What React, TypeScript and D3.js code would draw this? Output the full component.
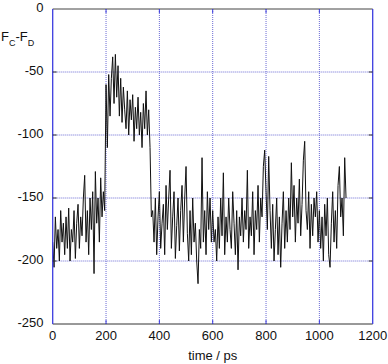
import React from "react";
import * as d3 from "d3";

const times: number[] = d3.range(0, 1101, 5);

const seg0to195 = [
  -185, -205, -165, -190, -175, -200, -160, -185, -170, -195,
  -165, -190, -158, -200, -175, -185, -160, -198, -170, -155,
  -190, -165, -180, -150, -132, -185, -160, -195, -150, -175,
  -145, -210, -129, -170, -150, -185, -134, -165, -145, -160,
];
const seg200to370 = [
  -60, -110, -52, -85, -55, -38, -75, -36, -70, -45,
  -85, -55, -90, -62, -80, -95, -65, -100, -72, -88,
  -68, -105, -78, -95, -70, -100, -82, -110, -75, -95,
  -65, -100, -80, -110, -165,
];
const seg375to595 = [
  -160, -185, -150, -195, -165, -145, -190, -170, -155, -195,
  -140, -175, -150, -128, -190, -165, -145, -198, -172, -150,
  -192, -160, -140, -185, -150, -125, -178, -200, -160, -195,
  -150, -185, -170, -200, -218, -175, -190, -118, -185, -160,
  -195, -145, -175, -150, -185,
];
const seg600to795 = [
  -160, -185, -175, -200, -165, -190, -150, -180, -130, -195,
  -165, -185, -150, -175, -190, -145, -170, -195, -160, -207,
  -165, -180, -150, -185, -160, -175, -128, -190, -165, -180,
  -145, -195, -160, -175, -140, -185, -150, -165, -125, -112,
];
const seg800to995 = [
  -145, -175, -117, -160, -190, -155, -200, -175, -150, -195,
  -165, -205, -170, -145, -190, -160, -185, -150, -175, -122,
  -165, -140, -185, -150, -170, -135, -180, -155, -120, -105,
  -160, -175, -145, -190, -155, -180, -150, -165, -145, -185,
];
const seg1000to1100 = [
  -160, -190, -165, -200, -155, -180, -150, -195, -205, -170,
  -145, -185, -160, -190, -140, -125, -165, -150, -180, -118, -150,
];

const values: number[] = [
  ...seg0to195,
  ...seg200to370,
  ...seg375to595,
  ...seg600to795,
  ...seg800to995,
  ...seg1000to1100,
];

const xTicks = [0, 200, 400, 600, 800, 1000, 1200];
const yTicks = [0, -50, -100, -150, -200, -250];

const W = 388;
const H = 364;
const left = 52.7;
const right = 372.7;
const top = 9;
const bottom = 324;

const gridColor = "#6a6ad4";
const font = "'Liberation Sans', Arial, sans-serif";

export default function App() {
  const x = d3.scaleLinear().domain([0, 1200]).range([left, right]);
  const y = d3.scaleLinear().domain([-250, 0]).range([bottom, top]);

  const pts = times.map((t, i) => [t, values[i]] as [number, number]);
  const line = d3
    .line<[number, number]>()
    .x((d) => x(d[0]))
    .y((d) => y(d[1]));

  return (
    <div style={{ position: "absolute", left: 0, top: 0 }}>
      <svg width={W} height={H} style={{ display: "block", background: "#fff" }}>
        {/* grid */}
        {xTicks.slice(1, -1).map((t) => (
          <line
            key={"gx" + t}
            x1={x(t)}
            x2={x(t)}
            y1={top}
            y2={bottom}
            stroke={gridColor}
            strokeWidth={1}
            strokeDasharray="1 1"
          />
        ))}
        {yTicks.slice(1, -1).map((t) => (
          <line
            key={"gy" + t}
            x1={left}
            x2={right}
            y1={y(t)}
            y2={y(t)}
            stroke={gridColor}
            strokeWidth={1}
            strokeDasharray="1 1"
          />
        ))}

        {/* data */}
        <path d={line(pts) || ""} fill="none" stroke="#111" strokeWidth={1} />

        {/* frame */}
        <line x1={left} x2={right} y1={top} y2={top} stroke="#444" strokeWidth={1} />
        <line x1={left} x2={right} y1={bottom} y2={bottom} stroke="#333" strokeWidth={1} />
        <line x1={left} x2={left} y1={top} y2={bottom} stroke="#3c3ce0" strokeWidth={1.3} />
        <line x1={right} x2={right} y1={top} y2={bottom} stroke="#3c3ce0" strokeWidth={1.3} />

        {/* small ticks */}
        {xTicks.slice(1, -1).map((t) => (
          <g key={"tx" + t}>
            <line x1={x(t)} x2={x(t)} y1={bottom} y2={bottom - 4} stroke="#3c3ce0" />
            <line x1={x(t)} x2={x(t)} y1={top} y2={top + 4} stroke="#3c3ce0" />
          </g>
        ))}
        {yTicks.slice(1, -1).map((t) => (
          <g key={"ty" + t}>
            <line x1={left} x2={left + 4} y1={y(t)} y2={y(t)} stroke="#333" />
            <line x1={right} x2={right - 4} y1={y(t)} y2={y(t)} stroke="#333" />
          </g>
        ))}

        {/* tick labels */}
        {xTicks.map((t) => (
          <text
            key={"lx" + t}
            x={x(t)}
            y={340}
            textAnchor="middle"
            fontFamily={font}
            fontSize={13}
            fill="#111"
          >
            {t}
          </text>
        ))}
        {yTicks.map((t) => (
          <text
            key={"ly" + t}
            x={43.5}
            y={y(t) + 3}
            textAnchor="end"
            fontFamily={font}
            fontSize={13}
            fill="#111"
          >
            {t}
          </text>
        ))}

        {/* axis titles */}
        <text x={x(600)} y={360} textAnchor="middle" fontFamily={font} fontSize={13} fill="#111">
          time / ps
        </text>
        <text x={1} y={41} fontFamily={font} fontSize={13} fill="#111">
          F<tspan fontSize={9} dy={5}>C</tspan>
          <tspan dy={-5}>-F</tspan>
          <tspan fontSize={9} dy={5}>D</tspan>
        </text>
      </svg>
    </div>
  );
}
